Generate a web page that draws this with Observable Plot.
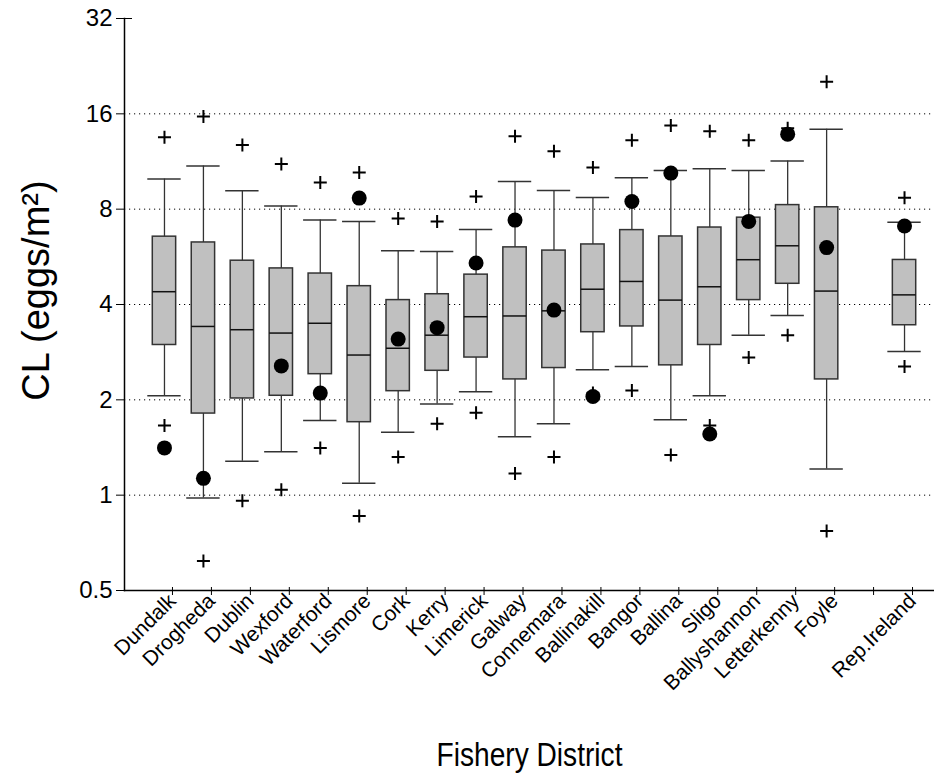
<!DOCTYPE html>
<html><head><meta charset="utf-8">
<script src="https://cdn.jsdelivr.net/npm/d3@7"></script>
<script src="https://cdn.jsdelivr.net/npm/@observablehq/plot@0.6"></script>
<style>body{margin:0;background:#fff} svg{display:block}</style>
</head><body><div id="chart"></div>
<script>
const districts = ["Dundalk","Drogheda","Dublin","Wexford","Waterford","Lismore","Cork","Kerry","Limerick","Galway","Connemara","Ballinakill","Bangor","Ballina","Sligo","Ballyshannon","Letterkenny","Foyle","Rep.Ireland"];
const p95         = [13.5, 15.7, 12.75, 11.1, 9.71, 10.45, 7.48, 7.32, 8.77, 13.6, 12.2, 10.84, 13.2, 14.7, 14.1, 13.2, 14.4, 20.2, 8.70];
const whiskerHigh = [9.96, 10.95, 9.15, 8.18, 7.39, 7.32, 5.91, 5.88, 6.90, 9.79, 9.17, 8.71, 10.05, 10.6, 10.73, 10.6, 11.35, 14.3, 7.28];
const q3          = [6.55, 6.28, 5.50, 5.20, 5.01, 4.57, 4.13, 4.31, 4.97, 6.06, 5.92, 6.19, 6.87, 6.56, 7.00, 7.52, 8.24, 8.11, 5.53];
const median      = [4.39, 3.41, 3.33, 3.25, 3.49, 2.77, 2.91, 3.20, 3.66, 3.68, 3.82, 4.47, 4.73, 4.13, 4.55, 5.54, 6.13, 4.41, 4.29];
const q1          = [2.98, 1.81, 2.02, 2.06, 2.41, 1.70, 2.13, 2.47, 2.72, 2.32, 2.52, 3.27, 3.41, 2.57, 2.98, 4.13, 4.65, 2.32, 3.44];
const whiskerLow  = [2.06, 0.98, 1.28, 1.37, 1.72, 1.09, 1.58, 1.94, 2.12, 1.53, 1.68, 2.49, 2.55, 1.73, 2.06, 3.20, 3.69, 1.21, 2.84];
const p5          = [1.66, 0.62, 0.96, 1.04, 1.41, 0.86, 1.32, 1.68, 1.82, 1.17, 1.32, 2.10, 2.14, 1.34, 1.66, 2.72, 3.20, 0.77, 2.55];
const meanValue   = [1.41, 1.13, null, 2.56, 2.10, 8.67, 3.11, 3.38, 5.41, 7.39, 3.84, 2.05, 8.46, 10.4, 1.56, 7.32, 13.8, 6.05, 7.08];
const yTicks = [0.5, 1, 2, 4, 8, 16, 32];
const gridValues = [1, 2, 4, 8, 16];
const yTitle = "CL (eggs/m²)";
const xTitle = "Fishery District";

const slots = [...districts.slice(0, 18), " ", districts[18]];
const rows = districts.map((d, i) => ({district: d, p95: p95[i], wh: whiskerHigh[i], q3: q3[i], med: median[i], q1: q1[i], wl: whiskerLow[i], p5: p5[i], mean: meanValue[i]}));
const outliers = rows.flatMap(r => [{district: r.district, v: r.p5}, {district: r.district, v: r.p95}]);
const means = rows.filter(r => r.mean != null);

const plusSymbol = {draw(ctx, size) {
  const r = Math.sqrt(size / Math.PI);
  ctx.moveTo(-r, 0); ctx.lineTo(r, 0);
  ctx.moveTo(0, -r); ctx.lineTo(0, r);
}};

const chart = Plot.plot({
  width: 934, height: 784,
  marginTop: 18, marginBottom: 194, marginLeft: 124, marginRight: 0,
  style: {fontFamily: "'Liberation Sans', Arial, sans-serif", background: "white", color: "black", overflow: "visible"},
  x: {type: "band", domain: slots, paddingInner: 0.4, paddingOuter: 0.2, align: 0.5, round: false, range: [144.5, 923.5]},
  y: {type: "log", base: 2, domain: [0.5, 32]},
  marks: [
    Plot.ruleY(gridValues, {stroke: "black", strokeDasharray: "1.2,3.8", strokeWidth: 1}),
    Plot.ruleX(rows, {x: "district", y1: "wl", y2: "wh", stroke: "#333", strokeWidth: 1.3}),
    Plot.tickY(rows, {x: "district", y: "wh", insetLeft: -5, insetRight: -5, stroke: "#333", strokeWidth: 1.5}),
    Plot.tickY(rows, {x: "district", y: "wl", insetLeft: -5, insetRight: -5, stroke: "#333", strokeWidth: 1.5}),
    Plot.barY(rows, {x: "district", y1: "q1", y2: "q3", fill: "#c0c0c0", stroke: "#333", strokeWidth: 1.5}),
    Plot.tickY(rows, {x: "district", y: "med", stroke: "#111", strokeWidth: 1.5}),
    Plot.dot(outliers, {x: "district", y: "v", symbol: plusSymbol, r: 6.5, stroke: "black", strokeWidth: 2, fill: "none"}),
    Plot.dot(means, {x: "district", y: "mean", r: 7.5, fill: "black", stroke: "none"}),
    Plot.axisY({ticks: yTicks, tickFormat: d => String(d), tickSize: 8, tickPadding: 4, fontSize: 24, label: null}),
    Plot.axisY({ticks: [32], tickSize: -8, tickFormat: () => "", label: null}),
    Plot.axisX({tickSize: 8, tickRotate: -45, fontSize: 21, label: null, tickPadding: 2, dx: 8, dy: -3}),
    Plot.frame({anchor: "left", stroke: "black", strokeWidth: 1.5}),
    Plot.frame({anchor: "bottom", stroke: "black", strokeWidth: 1.5}),
    Plot.text([yTitle], {text: d => d, frameAnchor: "left", dx: -88, dy: -14, rotate: -90, fontSize: 38, textAnchor: "middle", lineAnchor: "middle"}),
    Plot.text([xTitle], {text: d => d, frameAnchor: "bottom", dy: 165, fontSize: 34, textAnchor: "middle", lineAnchor: "middle"})
  ]
});
document.getElementById("chart").appendChild(chart);
// the reference draws the x title in a narrow face: squeeze it to its measured width
d3.select(chart).selectAll("text").filter(function() { return this.textContent === xTitle; })
  .attr("textLength", 186).attr("lengthAdjust", "spacingAndGlyphs");
</script>
</body></html>
